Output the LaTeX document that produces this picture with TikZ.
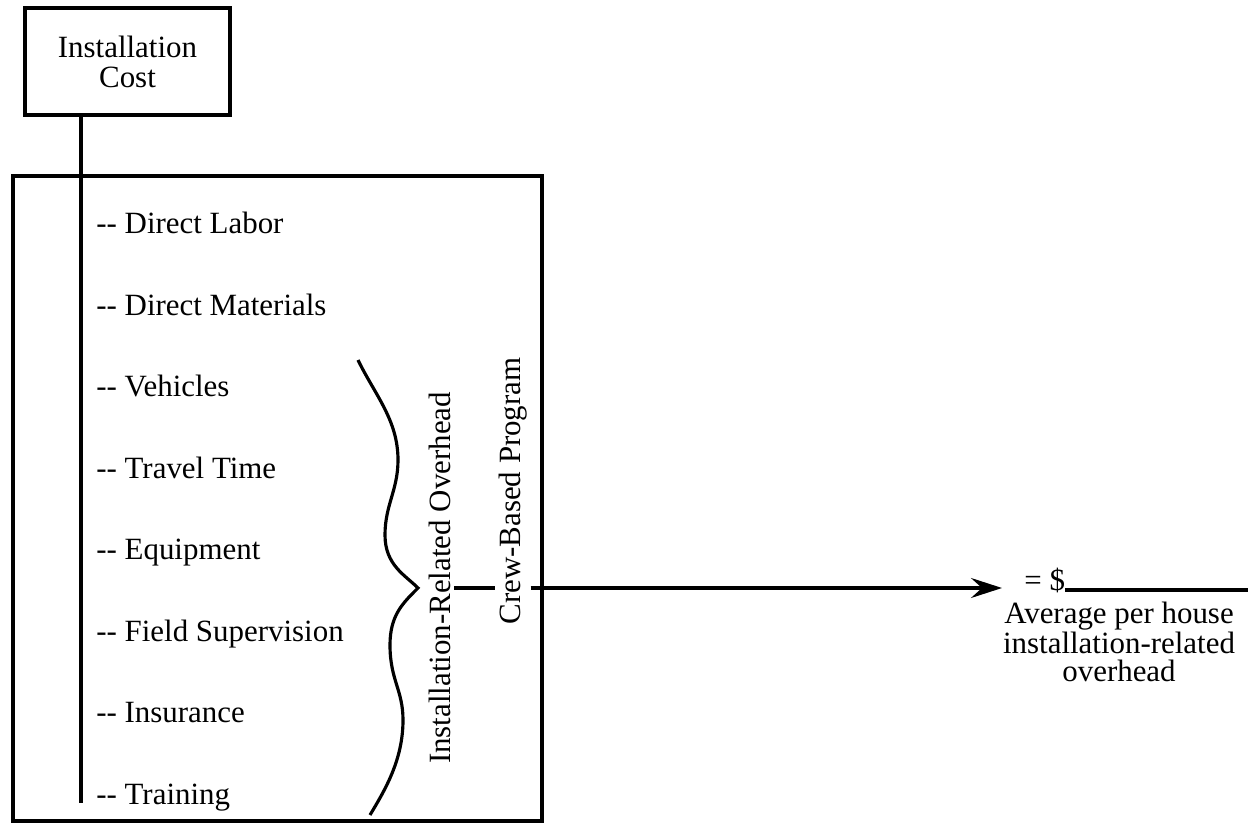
\documentclass[tikz,border=0pt]{standalone}
\usepackage{fontspec}
\setmainfont{Liberation Serif}
\usetikzlibrary{arrows.meta,
                positioning}
\newcommand{\dashes}{-\kern0pt-}
\tikzset{costbox/.style=
   {rectangle,
    draw,
    line width=1.8pt,
    align=center,
    minimum width=4.1cm,
    minimum height=2.14cm}}
\tikzset{panel/.style=
   {rectangle,
    draw,
    line width=1.8pt,
    minimum width=10.58cm,
    minimum height=12.9cm}}
\tikzset{item/.style=
   {anchor=west,
    inner sep=0pt,
    text height=0.7em,
    text depth=0.25em}}
\tikzset{sidelabel/.style=
   {rotate=90,
    anchor=base,
    inner sep=2pt}}
\tikzset{note/.style=
   {align=center,
    inner sep=0pt,
    font=\fontsize{17.6}{16}\selectfont}}
\tikzset{wire/.style = {draw, line width=1.8pt}}
\tikzset{arrow/.style = {draw, line width=1.8pt,
    -{Stealth[length=0.62cm, width=0.4cm, inset=0.22cm]}}}

\begin{document}
\begin{tikzpicture}[x=0.02cm, y=-0.02cm,
                    font=\fontsize{17.6}{17}\selectfont]

    \useasboundingbox (0,0) rectangle (1248,827);

    \node [costbox] (cost) at (127.5,61.5) {Installation\\Cost};

    \node [panel] (frame) at (277.5,498.5) {};

    \node [item] (labor) at (96,230) {\dashes{} Direct Labor};

    \node [item,
           below = 1.63cm of labor.west,
           anchor = west] (materials) {\dashes{} Direct Materials};

    \node [item,
           below = 1.63cm of materials.west,
           anchor = west] (vehicles) {\dashes{} Vehicles};

    \node [item,
           below = 1.63cm of vehicles.west,
           anchor = west] (travel) {\dashes{} Travel Time};

    \node [item,
           below = 1.63cm of travel.west,
           anchor = west] (equipment) {\dashes{} Equipment};

    \node [item,
           below = 1.63cm of equipment.west,
           anchor = west] (supervision) {\dashes{} Field Supervision};

    \node [item,
           below = 1.63cm of supervision.west,
           anchor = west] (insurance) {\dashes{} Insurance};

    \node [item,
           below = 1.63cm of insurance.west,
           anchor = west] (training) {\dashes{} Training};

    \coordinate (stemfoot) at (81,803);
    \draw [wire] (cost.south -| stemfoot) -- (stemfoot);

    % brace over the overhead items
    \coordinate (tip) at (418,588);
    \draw [wire] (358,360) .. controls (375,395) and (398,420) .. (398,460)
                 .. controls (398,490) and (385,505) .. (385,535)
                 .. controls (385,565) and (405,575) .. (tip)
                 .. controls (403,603) and (390,615) .. (390,645)
                 .. controls (390,680) and (403,690) .. (403,720)
                 .. controls (403,760) and (385,790) .. (370,815);

    \node [sidelabel] (ovh) at (450,578) {Installation-Related Overhead};
    \node [sidelabel] (crew) at (520,491) {Crew-Based Program};

    \draw [wire] (ovh.south |- tip) -- (crew.north |- tip);

    \node [note, anchor=base west] (dollar) at (1024,590) {= \$};
    \coordinate (arrowend) at (1002,588);
    \draw [arrow] (crew.south |- tip) -- (arrowend);

    \coordinate (blankend) at (1248,590);
    \draw [wire] (dollar.base east) -- (blankend);

    \node [note, anchor=north] (avg) at (1119,602)
          {Average per house\\installation-related\\overhead};

\end{tikzpicture}
\end{document}
